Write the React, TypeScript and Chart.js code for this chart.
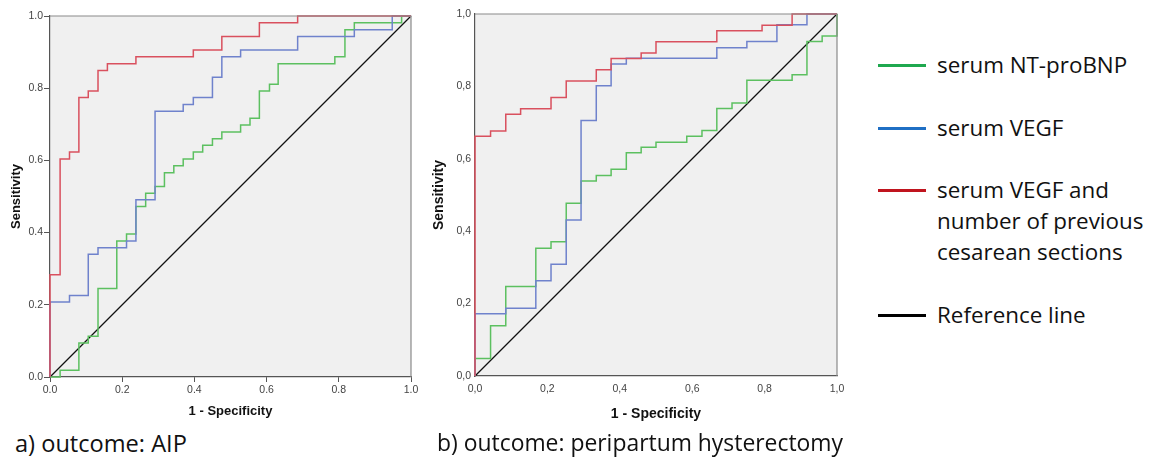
import React, { useEffect, useRef } from "react";
import { Chart, registerables } from "chart.js";

Chart.register(...registerables);

// ---------- DATA ----------
// Panel a) outcome: AIP  — ROC operating points (1 - specificity, sensitivity)
const aRedX = [0, 0, 0.028, 0.054, 0.080, 0.106, 0.133, 0.159, 0.238, 0.397, 0.476, 0.580, 0.686, 1.0];
const aRedY = [0, 0.283, 0.604, 0.623, 0.774, 0.792, 0.849, 0.868, 0.887, 0.906, 0.943, 0.981, 1.0, 1.0];

const aBlueX = [0, 0, 0.054, 0.106, 0.133, 0.212, 0.238, 0.291, 0.369, 0.397, 0.450, 0.476, 0.528, 0.686, 0.843, 0.948, 1.0];
const aBlueY = [0, 0.208, 0.226, 0.340, 0.358, 0.377, 0.491, 0.736, 0.755, 0.774, 0.830, 0.887, 0.906, 0.943, 0.962, 1.0, 1.0];

const aGreenX = [0, 0.028, 0.080, 0.106, 0.133, 0.185, 0.212, 0.238, 0.265, 0.291, 0.317, 0.343, 0.369, 0.397, 0.423, 0.450, 0.476, 0.528, 0.554, 0.580, 0.608, 0.632, 0.789, 0.817, 0.843, 0.974, 1.0];
const aGreenY = [0, 0.019, 0.094, 0.113, 0.245, 0.377, 0.396, 0.472, 0.509, 0.528, 0.566, 0.585, 0.604, 0.623, 0.642, 0.660, 0.679, 0.698, 0.717, 0.792, 0.811, 0.868, 0.887, 0.962, 0.981, 1.0, 1.0];

// Panel b) outcome: peripartum hysterectomy
const bRedX = [0, 0, 0.043, 0.085, 0.126, 0.210, 0.252, 0.335, 0.376, 0.459, 0.500, 0.668, 0.793, 0.876, 1.0];
const bRedY = [0, 0.662, 0.677, 0.723, 0.738, 0.769, 0.815, 0.846, 0.877, 0.892, 0.923, 0.954, 0.969, 1.0, 1.0];

const bBlueX = [0, 0, 0.085, 0.168, 0.210, 0.252, 0.293, 0.335, 0.376, 0.418, 0.668, 0.751, 0.834, 0.917, 1.0];
const bBlueY = [0, 0.172, 0.187, 0.263, 0.309, 0.431, 0.706, 0.802, 0.862, 0.878, 0.907, 0.924, 0.970, 1.0, 1.0];

const bGreenX = [0, 0, 0.043, 0.085, 0.168, 0.210, 0.252, 0.293, 0.335, 0.376, 0.418, 0.459, 0.500, 0.585, 0.627, 0.668, 0.710, 0.751, 0.876, 0.917, 0.959, 1.0];
const bGreenY = [0, 0.048, 0.139, 0.247, 0.353, 0.371, 0.477, 0.539, 0.554, 0.571, 0.617, 0.632, 0.646, 0.662, 0.678, 0.739, 0.754, 0.817, 0.832, 0.924, 0.939, 1.0];

const refX = [0, 1];
const refY = [0, 1];

const tickLabelsA = ["0.0", "0.2", "0.4", "0.6", "0.8", "1.0"];
const tickLabelsB = ["0,0", "0,2", "0,4", "0,6", "0,8", "1,0"];

const xTitle = "1 - Specificity";
const yTitle = "Sensitivity";

const legendLabels = [
  ["serum NT-proBNP"],
  ["serum VEGF"],
  ["serum VEGF and", "number of previous", "cesarean sections"],
  ["Reference line"],
];
const captionA = "a) outcome: AIP";
const captionB = "b) outcome: peripartum hysterectomy";

// ---------- STYLE ----------
const plotRed = "#d9505e";
const plotBlue = "#6f82cc";
const plotGreen = "#5cc060";
const legendColors = ["#1fa84f", "#1f6fc4", "#c0141e", "#000000"];
const legendRowY = [65, 128, 190, 315];
const uiFont = "'Open Sans', 'Noto Sans', sans-serif";
const axisFont = "'Liberation Sans', Arial, sans-serif";

const toPts = (xs: number[], ys: number[]) => xs.map((x, i) => ({ x, y: ys[i] }));

const framePlugin = {
  id: "frame",
  beforeDraw(chart: any) {
    const { ctx, chartArea } = chart;
    const { left, top, right, bottom } = chartArea;
    ctx.save();
    ctx.fillStyle = "#f0f0f0";
    ctx.fillRect(left, top, right - left, bottom - top);
    ctx.restore();
  },
  afterDraw(chart: any) {
    const { ctx, chartArea } = chart;
    const { left, top, right, bottom } = chartArea;
    ctx.save();
    ctx.strokeStyle = "#8a8a8a";
    ctx.lineWidth = 1.2;
    ctx.beginPath();
    ctx.moveTo(left, top);
    ctx.lineTo(right, top);
    ctx.lineTo(right, bottom);
    ctx.stroke();
    ctx.restore();
  },
};

type PanelCfg = {
  red: { x: number[]; y: number[] };
  blue: { x: number[]; y: number[] };
  green: { x: number[]; y: number[] };
  labels: string[];
  yAxisWidth: number;
  xAxisHeight: number;
  padTop: number;
  padRight: number;
  yTickLen: number;
  tickColor: string;
  xTickLen: number;
  xTickPad: number;
  yTitlePad: number;
  xTitlePad: number;
  titleSize: number;
};

function RocPanel({ cfg, style }: { cfg: PanelCfg; style: React.CSSProperties }) {
  const ref = useRef<HTMLCanvasElement>(null);
  useEffect(() => {
    if (!ref.current) return;
    const lineDs = (label: string, data: any[], color: string, width: number, stepped: any) => ({
      label,
      data,
      borderColor: color,
      backgroundColor: color,
      borderWidth: width,
      pointRadius: 0,
      showLine: true,
      stepped,
      fill: false,
      clip: 4,
    });
    const labelFor = (v: number) => cfg.labels[Math.round(v * 5)] ?? "";
    const chart = new Chart(ref.current, {
      type: "scatter",
      data: {
        datasets: [
          lineDs("red", toPts(cfg.red.x, cfg.red.y), plotRed, 1.5, "before"),
          lineDs("blue", toPts(cfg.blue.x, cfg.blue.y), plotBlue, 1.5, "before"),
          lineDs("green", toPts(cfg.green.x, cfg.green.y), plotGreen, 1.5, "before"),
          lineDs("ref", toPts(refX, refY), "#111111", 1.2, false),
        ],
      },
      options: {
        animation: false,
        responsive: false,
        maintainAspectRatio: false,
        layout: { padding: { top: cfg.padTop, right: cfg.padRight, left: 0, bottom: 0 } },
        plugins: { legend: { display: false }, tooltip: { enabled: false } },
        scales: {
          x: {
            type: "linear",
            min: 0,
            max: 1,
            afterFit: (s: any) => {
              s.height = cfg.xAxisHeight;
            },
            grid: { drawOnChartArea: false, drawTicks: true, tickLength: cfg.xTickLen, color: cfg.tickColor },
            border: { color: "#555", width: 1.2 },
            ticks: {
              stepSize: 0.2,
              autoSkip: false,
              maxRotation: 0,
              padding: cfg.xTickPad,
              color: "#444",
              font: { family: axisFont, size: 10.5 },
              callback: (v: any) => labelFor(Number(v)),
            },
            title: {
              display: true,
              text: xTitle,
              color: "#111",
              font: { family: axisFont, size: cfg.titleSize, weight: "bold" },
              padding: { top: 0, bottom: cfg.xTitlePad },
            },
          },
          y: {
            type: "linear",
            min: 0,
            max: 1,
            afterFit: (s: any) => {
              s.width = cfg.yAxisWidth;
            },
            grid: {
              drawOnChartArea: false,
              drawTicks: true,
              tickLength: cfg.yTickLen,
              color: cfg.tickColor,
            },
            border: { color: "#555", width: 1.2 },
            ticks: {
              stepSize: 0.2,
              autoSkip: false,
              padding: 1,
              color: "#444",
              font: { family: axisFont, size: 10.5 },
              callback: (v: any) => labelFor(Number(v)),
            },
            title: {
              display: true,
              text: yTitle,
              color: "#111",
              font: { family: axisFont, size: cfg.titleSize, weight: "bold" },
              padding: { top: cfg.yTitlePad, bottom: 0 },
            },
          },
        },
      },
      plugins: [framePlugin],
    } as any);
    return () => chart.destroy();
  }, [cfg]);
  return (
    <div style={style}>
      <canvas ref={ref} width={style.width as number} height={style.height as number} />
    </div>
  );
}

const cfgA: PanelCfg = {
  red: { x: aRedX, y: aRedY },
  blue: { x: aBlueX, y: aBlueY },
  green: { x: aGreenX, y: aGreenY },
  labels: tickLabelsA,
  yAxisWidth: 50,
  xAxisHeight: 48,
  padTop: 16,
  padRight: 19,
  yTickLen: 6,
  tickColor: "#555",
  xTickLen: 5,
  xTickPad: 2,
  yTitlePad: 9,
  xTitlePad: 6,
  titleSize: 13,
};

const cfgB: PanelCfg = {
  red: { x: bRedX, y: bRedY },
  blue: { x: bBlueX, y: bBlueY },
  green: { x: bGreenX, y: bGreenY },
  labels: tickLabelsB,
  yAxisWidth: 55,
  xAxisHeight: 49,
  padTop: 14,
  padRight: 23,
  yTickLen: 3,
  tickColor: "rgba(0,0,0,0)",
  xTickLen: 4,
  xTickPad: 3,
  yTitlePad: 11,
  xTitlePad: 2,
  titleSize: 14,
};

export default function App() {
  return (
    <div
      style={{
        position: "absolute",
        left: 0,
        top: 0,
        width: 1149,
        height: 459,
        background: "#ffffff",
        overflow: "hidden",
        fontFamily: uiFont,
      }}
    >
      <RocPanel cfg={cfgA} style={{ position: "absolute", left: 0, top: 0, width: 430, height: 425 }} />
      <RocPanel cfg={cfgB} style={{ position: "absolute", left: 420, top: 0, width: 440, height: 425 }} />

      {legendLabels.map((lines, i) => (
        <React.Fragment key={i}>
          <div
            style={{
              position: "absolute",
              left: 878,
              top: legendRowY[i] - 1.5,
              width: 48,
              height: 3,
              background: legendColors[i],
            }}
          />
          <div
            style={{
              position: "absolute",
              left: 937,
              top: legendRowY[i] - 16,
              fontSize: 22.4,
              lineHeight: "31px",
              color: "#111",
              whiteSpace: "nowrap",
            }}
          >
            {lines.map((t, j) => (
              <div key={j}>{t}</div>
            ))}
          </div>
        </React.Fragment>
      ))}

      <div
        style={{
          position: "absolute",
          left: 15,
          top: 427,
          fontSize: 23.6,
          lineHeight: "32px",
          color: "#111",
          whiteSpace: "nowrap",
        }}
      >
        {captionA}
      </div>
      <div
        style={{
          position: "absolute",
          left: 437,
          top: 427,
          fontSize: 22.9,
          lineHeight: "32px",
          color: "#111",
          whiteSpace: "nowrap",
        }}
      >
        {captionB}
      </div>
    </div>
  );
}
